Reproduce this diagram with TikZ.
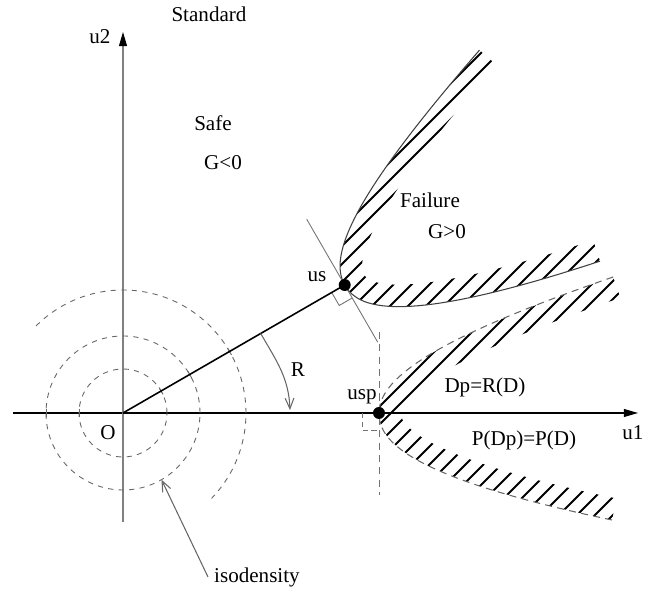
\documentclass[tikz,border=0pt]{standalone}
\usepackage{fontspec}
\setmainfont{Liberation Serif}
\usetikzlibrary{arrows.meta}

\begin{document}
\begin{tikzpicture}[x=0.02cm,y=0.02cm,font=\fontsize{12}{14}\selectfont,
    declare function={
      lsf(\t)=(\t>0)*500*(sqrt(1+(\t/126.5)^2)-1)+(1-(\t>0))*233*(abs(\t)/107+0.00001)^2.2;
      lsd(\t)=(\t>0)*\t/(32*sqrt(1+(\t/126.5)^2))-(1-(\t>0))*4.795*(abs(\t)/107+0.00001)^1.2;
      nrm(\t)=sqrt(1+lsd(\t)^2);
    },
    axis/.style={line width=0.6pt,-{Triangle[length=8pt,width=4.5pt,color=black]}},
    isoline/.style={black!60,line width=0.5pt,dash pattern=on 3pt off 3pt},
    limit/.style={black!75,line width=0.6pt},
    tangent/.style={black!55,line width=0.5pt},
    hatchline/.style={line width=1.1pt},
    barb/.style={black!60,line width=0.6pt,-{Straight Barb[length=6pt,width=5pt]}}]
  \useasboundingbox (-123,-178) rectangle (531,413);

  \coordinate (O) at (0,0);
  \coordinate (us) at (30:256);
  \coordinate (usp) at (256,0);

  % axes
  \coordinate (u1s) at (-110,0);
  \coordinate (u1e) at (515,0);
  \coordinate (u2s) at (0,-109);
  \coordinate (u2e) at (0,381);
  \draw[axis] (u1s) -- (u1e);
  \draw[axis,black!50] (u2s) -- (u2e);

  % isodensity circles
  \draw[isoline] (O) circle[radius=44];
  \draw[isoline] (O) circle[radius=77];
  \draw[isoline] (135:123) arc[start angle=135,end angle=-44,radius=123];
  \foreach \r in {44,77,123}
    \draw[black!60,line width=0.5pt,rotate=30] (\r,-4) -- (\r,4);
  \foreach \r in {44,77}
    \draw[black!60,line width=0.5pt] (-\r,-4) -- (-\r,4);

  % hatched band of D and Dp
  \begin{scope}
    \clip[shift={(us)},rotate=30]
      plot[domain=-107:136,samples=80,variable=\t] ({lsf(\t)},{\t})
      -- plot[domain=136:-107,samples=80,variable=\t]
         ({lsf(\t)+22/nrm(\t)},{\t-22*lsd(\t)/nrm(\t)}) -- cycle;
    \foreach \c in {-164,-146,...,640}
      \draw[hatchline] (\c-150,-150) -- (\c+400,400);
  \end{scope}
  \begin{scope}
    \clip[shift={(usp)}]
      plot[domain=-107:136,samples=80,variable=\t] ({lsf(\t)},{\t})
      -- plot[domain=136:-107,samples=80,variable=\t]
         ({lsf(\t)+22/nrm(\t)},{\t-22*lsd(\t)/nrm(\t)}) -- cycle;
    \foreach \c in {-164,-146,...,640}
      \draw[hatchline] (\c-150,-150) -- (\c+400,400);
  \end{scope}

  % limit state G=0 and its tangent at us
  \begin{scope}[shift={(us)},rotate=30]
    \draw[limit] plot[domain=-107:136,samples=80,variable=\t] ({lsf(\t)},{\t});
    \draw[tangent] (0,76) -- (0,-66);
    \draw[tangent] (-15,0) -- (-15,-15) -- (0,-15);
  \end{scope}

  % rotated domain
  \begin{scope}[shift={(usp)}]
    \draw[limit,black!60,dash pattern=on 4pt off 3pt]
      plot[domain=-107:136,samples=80,variable=\t] ({lsf(\t)},{\t});
    \draw[tangent,dash pattern=on 4pt off 3pt] (0,81) -- (0,-82);
    \draw[tangent,dash pattern=on 3pt off 2pt] (-17,0) -- (-17,-17) -- (0,-17);
  \end{scope}

  \draw[line width=0.9pt] (O) -- (us);
  \draw[line width=0.9pt,dash pattern=on 4pt off 2.5pt] (O) -- (usp);
  \fill (us) circle[radius=6];
  \fill (usp) circle[radius=6];

  % rotation angle
  \coordinate (Rs) at (30:159);
  \coordinate (Re) at (1:167);
  \draw[barb] (Rs) to[out=-60,in=92] (Re);

  % labels
  \node (std) at (86,399) {Standard};
  \node (u2) at (-23,376) {u2};
  \node (safe) at (90,290) {Safe};
  \node (gneg) at (100,250) {G<0};
  \node (fail) at (307,213) {Failure};
  \node (gpos) at (324,181) {G>0};
  \node (uslab) at (194,136) {us};
  \node (usplab) at (239,16) {usp};
  \node (rlab) at (175,43) {R};
  \node (dp) at (362,26) {Dp=R(D)};
  \node (pdp) at (401,-27) {P(Dp)=P(D)};
  \node (u1) at (510,-20) {u1};
  \node (olab) at (-15,-20) {O};
  \node[anchor=west] (iso) at (85,-164) {isodensity};

  \coordinate (isotip) at (-60:77);
  \draw[barb] (iso.west) -- (isotip);
\end{tikzpicture}
\end{document}
